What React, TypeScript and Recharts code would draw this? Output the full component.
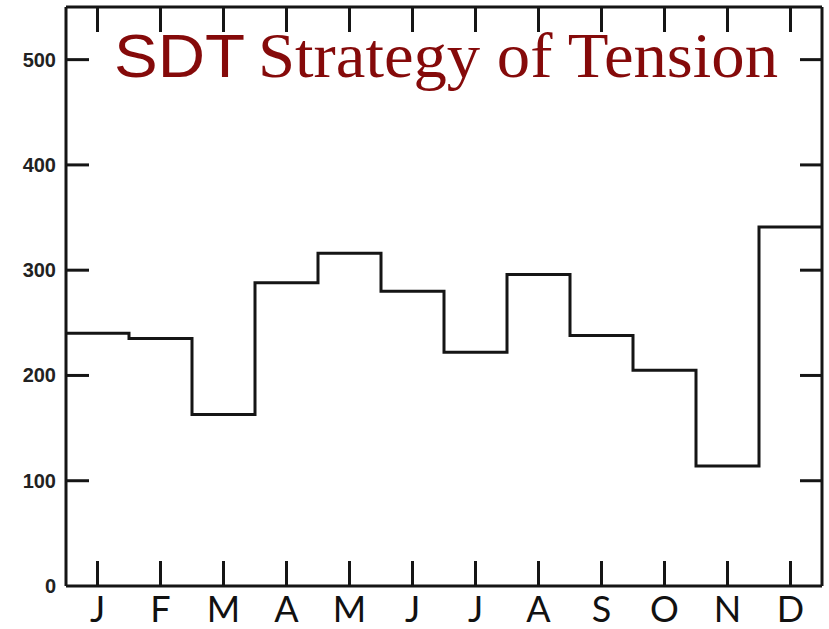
import { LineChart, Line, XAxis, YAxis } from "recharts";

const months = ["J", "F", "M", "A", "M", "J", "J", "A", "S", "O", "N", "D"];
const counts = [240, 235, 163, 288, 316, 280, 222, 296, 238, 205, 114, 341];
const yTicks = [0, 100, 200, 300, 400, 500];
const rightTicks = [100, 200, 300, 400, 500];

// one point per month boundary, the last one closes December
const data = counts
  .map((v, i) => ({ x: i, v }))
  .concat([{ x: months.length, v: counts[counts.length - 1] }]);
const xTicks = months.map((_, i) => i + 0.5);

const INK = "#151515";

const BottomTick = (props: any) => {
  const { x, y, payload } = props;
  const label = months[Math.floor(payload.value)];
  return (
    <g>
      <line x1={x} x2={x} y1={y} y2={y - 25} stroke={INK} strokeWidth={3} />
      <text x={x} y={y + 36} textAnchor="middle" fontFamily="Lato" fontSize={36} fill="#111">
        {label}
      </text>
    </g>
  );
};

const TopTick = (props: any) => {
  const { x, y } = props;
  return <line x1={x} x2={x} y1={y} y2={y + 25} stroke={INK} strokeWidth={3} />;
};

const LeftTick = (props: any) => {
  const { x, y, payload } = props;
  return (
    <g>
      {payload.value > 0 && (
        <line x1={x} x2={x + 23} y1={y} y2={y} stroke={INK} strokeWidth={3} />
      )}
      <text
        x={x - 10}
        y={y + 7}
        textAnchor="end"
        fontFamily="Liberation Sans"
        fontWeight="bold"
        fontSize={20}
        fill="#222"
      >
        {payload.value}
      </text>
    </g>
  );
};

const RightTick = (props: any) => {
  const { x, y } = props;
  return <line x1={x} x2={x - 22} y1={y} y2={y} stroke={INK} strokeWidth={3} />;
};

export default function App() {
  return (
    <div
      style={{
        position: "absolute",
        left: 0,
        top: 0,
        width: 829,
        height: 629,
        background: "#fff",
        overflow: "hidden",
      }}
    >
      <LineChart
        width={829}
        height={629}
        data={data}
        margin={{ top: 6, right: 6, left: 0, bottom: 0 }}
      >
        <XAxis
          dataKey="x"
          type="number"
          domain={[0, 12]}
          ticks={xTicks}
          height={43}
          tickSize={0}
          tickMargin={0}
          tickLine={false}
          tick={<BottomTick />}
          axisLine={{ stroke: INK, strokeWidth: 3 }}
          interval={0}
        />
        <XAxis
          xAxisId="top"
          orientation="top"
          dataKey="x"
          type="number"
          domain={[0, 12]}
          ticks={xTicks}
          height={1}
          tickSize={0}
          tickMargin={0}
          tickLine={false}
          tick={<TopTick />}
          axisLine={{ stroke: INK, strokeWidth: 3 }}
          interval={0}
        />
        <YAxis
          type="number"
          domain={[0, 550]}
          ticks={yTicks}
          width={66}
          tickSize={0}
          tickMargin={0}
          tickLine={false}
          tick={<LeftTick />}
          axisLine={{ stroke: INK, strokeWidth: 3 }}
          interval={0}
        />
        <YAxis
          yAxisId="right"
          orientation="right"
          type="number"
          domain={[0, 550]}
          ticks={rightTicks}
          width={1}
          tickSize={0}
          tickMargin={0}
          tickLine={false}
          tick={<RightTick />}
          axisLine={{ stroke: INK, strokeWidth: 3 }}
          interval={0}
        />
        <Line
          xAxisId="top"
          yAxisId="right"
          dataKey="v"
          stroke="transparent"
          dot={false}
          isAnimationActive={false}
        />
        <Line
          type="stepAfter"
          dataKey="v"
          stroke={INK}
          strokeWidth={3}
          dot={false}
          isAnimationActive={false}
        />
      </LineChart>
      <svg
        width={829}
        height={629}
        style={{ position: "absolute", left: 0, top: 0, pointerEvents: "none" }}
      >
        <text
          x={114}
          y={77}
          fontFamily="Liberation Sans"
          fontSize={61}
          fill="#850a0a"
          textLength={131}
          lengthAdjust="spacingAndGlyphs"
        >
          SDT
        </text>
        <text
          x={258}
          y={77}
          fontFamily="Liberation Serif"
          fontSize={63}
          fill="#850a0a"
          textLength={520}
          lengthAdjust="spacingAndGlyphs"
        >
          Strategy of Tension
        </text>
      </svg>
    </div>
  );
}
